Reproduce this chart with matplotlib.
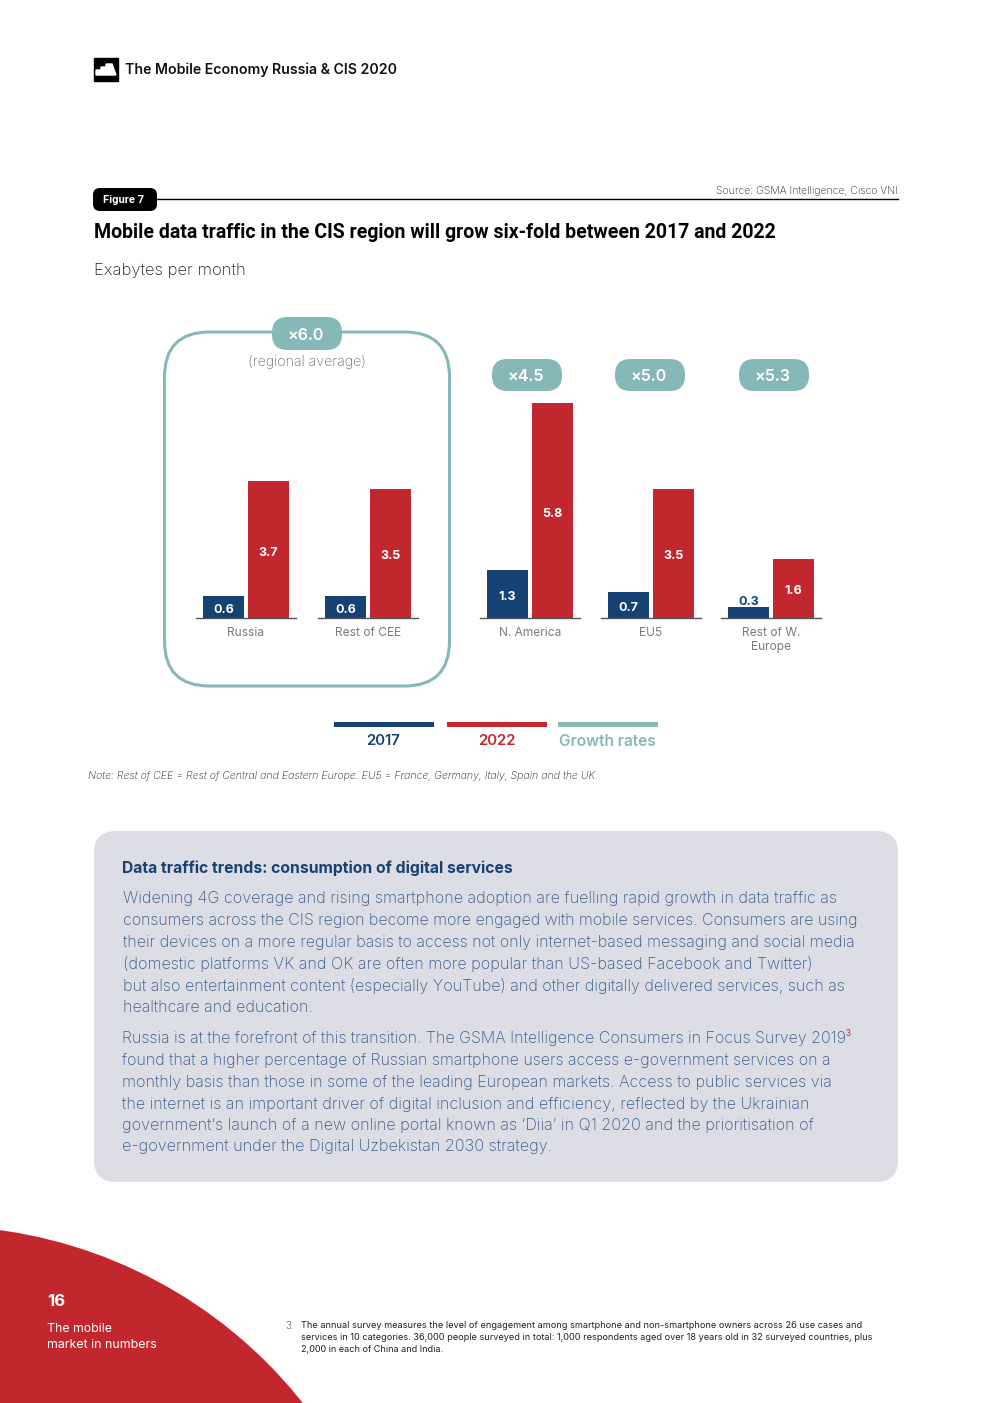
import matplotlib
matplotlib.use("Agg")
import matplotlib.pyplot as plt
from matplotlib.patches import Circle, FancyBboxPatch, Polygon, Rectangle

# --- data ---
categories = ["Russia", "Rest of CEE", "N. America", "EU5", "Rest of W.\nEurope"]
values_2017 = [0.6, 0.6, 1.3, 0.7, 0.3]
values_2022 = [3.7, 3.5, 5.8, 3.5, 1.6]
growth_labels = ["×6.0", "×4.5", "×5.0", "×5.3"]
legend_labels = ["2017", "2022", "Growth rates"]

body_1 = [
    "Widening 4G coverage and rising smartphone adoption are fuelling rapid growth in data traffic as",
    "consumers across the CIS region become more engaged with mobile services. Consumers are using",
    "their devices on a more regular basis to access not only internet-based messaging and social media",
    "(domestic platforms VK and OK are often more popular than US-based Facebook and Twitter)",
    "but also entertainment content (especially YouTube) and other digitally delivered services, such as",
    "healthcare and education.",
]
body_2 = [
    "Russia is at the forefront of this transition. The GSMA Intelligence Consumers in Focus Survey 2019",
    "found that a higher percentage of Russian smartphone users access e-government services on a",
    "monthly basis than those in some of the leading European markets. Access to public services via",
    "the internet is an important driver of digital inclusion and efficiency, reflected by the Ukrainian",
    "government’s launch of a new online portal known as ‘Diia’ in Q1 2020 and the prioritisation of",
    "e-government under the Digital Uzbekistan 2030 strategy.",
]
footnote = [
    "The annual survey measures the level of engagement among smartphone and non-smartphone owners across 26 use cases and",
    "services in 10 categories. 36,000 people surveyed in total: 1,000 respondents aged over 18 years old in 32 surveyed countries, plus",
    "2,000 in each of China and India.",
]

NAVY = "#154273"
RED = "#C1272D"
TEAL = "#85B8B6"
PANEL = "#DCDDE5"
GREY = "#6D6E71"
BODY = "#3A5A88"

plt.rcParams["font.family"] = ["Inter", "DejaVu Sans"]

W, H = 992, 1403
fig = plt.figure(figsize=(W / 100, H / 100), dpi=100, facecolor="white")
renderer = fig.canvas.get_renderer()

# page axes in pixel coordinates
page = fig.add_axes([0, 0, 1, 1])
page.set_xlim(0, W)
page.set_ylim(H, 0)
page.axis("off")


def pill(ax, x0, y0, x1, y1, r, color, **kw):
    p = FancyBboxPatch((x0, y0), x1 - x0, y1 - y0,
                       boxstyle=f"round,pad=0,rounding_size={r}",
                       facecolor=color, edgecolor="none", **kw)
    ax.add_patch(p)
    return p


def fit_text(x, y, s, width, size=10, **kw):
    # scale the font so the line is as wide as in the page
    kw.setdefault("va", "center")
    kw.setdefault("ha", "left")
    t = page.text(x, y, s, fontsize=size, **kw)
    t.set_fontsize(size * width / t.get_window_extent(renderer).width)
    return t


# header
page.add_patch(Rectangle((94, 58), 23.5, 22.5, color="black"))
page.add_patch(Polygon([(96, 75), (96, 70), (101, 70), (101, 67), (106, 67),
                        (106, 64), (112, 64), (116, 75)], color="white"))
fit_text(125, 70, "The Mobile Economy Russia & CIS 2020", 271, fontweight="semibold", color="#111111")

# figure tag + title
page.plot([150, 898], [199, 199], color="black", lw=1)
pill(page, 93, 188, 157, 211, 7, "black")
page.text(124, 200, "Figure 7", color="white", fontsize=8, fontweight="bold",
          ha="center", va="center", family=["Roboto"])
fit_text(898, 191, "Source: GSMA Intelligence, Cisco VNI", 182, color="#222222", ha="right", fontweight="light")
fit_text(94, 232, "Mobile data traffic in the CIS region will grow six-fold between 2017 and 2022",
         686, fontweight="bold", color="black", family=["Roboto"])
fit_text(94, 270, "Exabytes per month", 152, color="#222222", fontweight="light")

# regional average box
box = FancyBboxPatch((164.5, 332), 285, 354, boxstyle="round,pad=0,rounding_size=45",
                     facecolor="none", edgecolor=TEAL, lw=2.2)
page.add_patch(box)
fit_text(307, 362, "(regional average)", 119, color=GREY, ha="center", fontweight="light")

# growth pills
pill_spans = [(272, 342, 317, 350), (492, 562, 359, 391), (615, 685, 359, 391), (739, 809, 359, 391)]
for lab, (x0, x1, y0, y1) in zip(growth_labels, pill_spans):
    pill(page, x0, y0, x1, y1, 15.5, TEAL)
    page.text((x0 + x1) / 2 - 1, (y0 + y1) / 2 + 1.5, lab, color="white", fontsize=11.5,
              fontweight="semibold", ha="center", va="center")

# bars
group_x = [246, 368, 530, 651, 771]
px_per_unit = 37.0
base_px = 618
top_val = 5.8
label_shift = 0.08  # value labels sit a little below bar centre
chart = fig.add_axes([0, 1 - base_px / H, 1, top_val * px_per_unit / H])
chart.set_xlim(0, W)
chart.set_ylim(0, top_val)
chart.axis("off")
chart.patch.set_alpha(0)

for cx, cat, v17, v22 in zip(group_x, categories, values_2017, values_2022):
    chart.bar(cx - 22.5, v17, width=41, color=NAVY)
    chart.bar(cx + 22.5, v22, width=41, color=RED)
    chart.plot([cx - 50, cx + 50], [0, 0], color="#55565A", lw=1, clip_on=False)
    if v17 < 0.4:
        chart.text(cx - 22.5, v17 + 0.2 - label_shift, f"{v17}", color=NAVY, fontsize=9,
                   fontweight="bold", ha="center", va="center")
    else:
        chart.text(cx - 22.5, v17 / 2 - label_shift, f"{v17}", color="white", fontsize=9,
                   fontweight="bold", ha="center", va="center")
    chart.text(cx + 22.5, v22 / 2 - label_shift, f"{v22}", color="white", fontsize=9,
               fontweight="bold", ha="center", va="center")
    page.text(cx, 627, cat, fontsize=8.6, color="#7A7B7E", ha="center", va="top", linespacing=1.2)

# legend
legend_spans = [(334, 434), (447, 547), (558, 658)]
legend_widths = [34, 38, 97]
for lab, (x0, x1), w, c in zip(legend_labels, legend_spans, legend_widths, [NAVY, RED, TEAL]):
    page.add_patch(Rectangle((x0, 722), x1 - x0, 5, color=c, lw=0))
    fit_text((x0 + x1) / 2 - 0.5, 741, lab, w, color=c, fontweight="semibold", ha="center")

fit_text(88, 776, "Note: Rest of CEE = Rest of Central and Eastern Europe. EU5 = France, Germany, Italy, Spain and the UK.",
         509, style="italic", color="#222222", fontweight="light")

# grey panel
pill(page, 94, 831, 898, 1182, 22, PANEL)
fit_text(122, 868, "Data traffic trends: consumption of digital services", 390,
         fontweight="bold", color=NAVY)
for y, line, w in zip([899, 921, 942, 964, 986, 1007], body_1, [713, 737, 731, 690, 722, 190]):
    fit_text(123, y, line, w, color=BODY, fontweight="light")
for y, line, w in zip([1039, 1060, 1082, 1104, 1125.4, 1147], body_2, [724, 708, 709, 686, 692, 430]):
    fit_text(122, y, line, w, color=BODY, fontweight="light")
page.text(846, 1034, "3", fontsize=6, color=RED, ha="left", va="center")

# corner
corner = Circle((-63.4, 1692.8), 467, facecolor=RED, edgecolor="none")
page.add_patch(corner)
page.text(47, 1301.5, "16", color="white", fontsize=12, fontweight="bold", ha="left", va="center")
fit_text(47, 1328.5, "The mobile", 65, color="white")
fit_text(47, 1345, "market in numbers", 110, color="white")

# footnote
page.text(285, 1326, "3.", fontsize=7, color="#222222", ha="left", va="center", fontweight="light")
for y, line, w in zip([1326, 1338, 1350], footnote, [559, 570, 143]):
    fit_text(301, y, line, w, color="#222222", fontweight="normal")

fig.savefig("out.png", dpi=100)
